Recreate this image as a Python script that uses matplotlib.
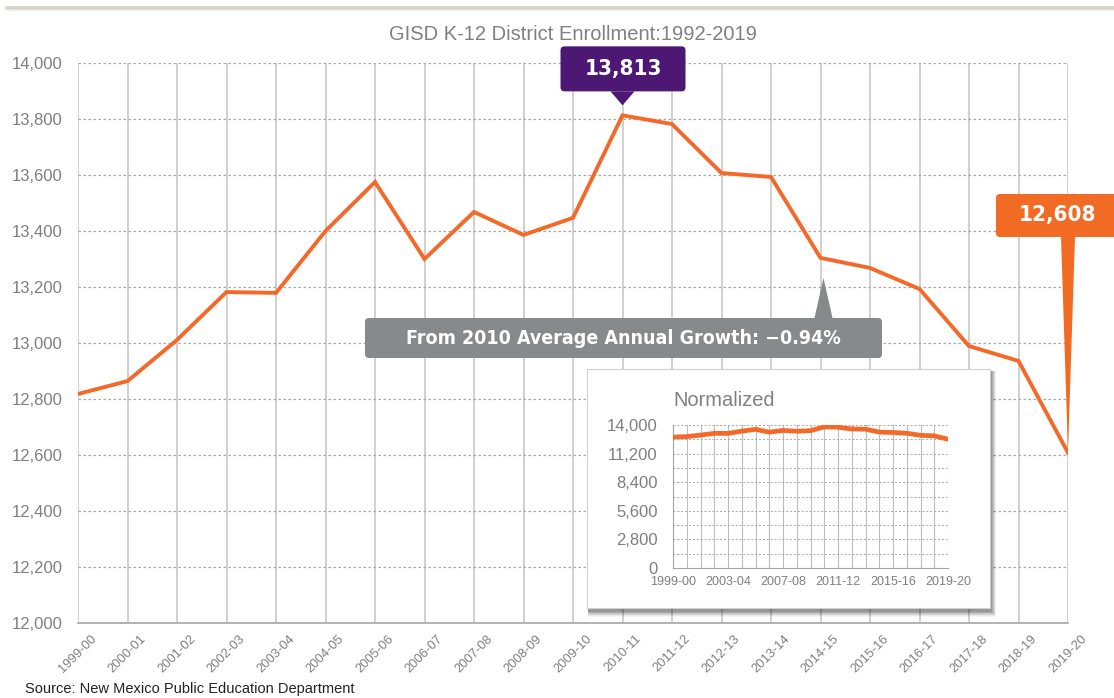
import matplotlib
matplotlib.use("Agg")
import matplotlib.pyplot as plt
from matplotlib import font_manager
from matplotlib.font_manager import FontProperties
from matplotlib.patches import FancyBboxPatch, Polygon, Rectangle
from matplotlib.ticker import FuncFormatter, MultipleLocator

# ---------------- data ----------------
years = ["1999-00", "2000-01", "2001-02", "2002-03", "2003-04", "2004-05", "2005-06",
         "2006-07", "2007-08", "2008-09", "2009-10", "2010-11", "2011-12", "2012-13",
         "2013-14", "2014-15", "2015-16", "2016-17", "2017-18", "2018-19", "2019-20"]
enrollment = [12818, 12864, 13011, 13182, 13179, 13400, 13575,
              13300, 13468, 13386, 13447, 13813, 13782, 13607,
              13593, 13304, 13268, 13193, 12989, 12936, 12608]
main_yticks = [12000, 12200, 12400, 12600, 12800, 13000, 13200, 13400, 13600, 13800, 14000]
inset_yticks = [0, 2800, 5600, 8400, 11200, 14000]
inset_xlabels = ["1999-00", "2003-04", "2007-08", "2011-12", "2015-16", "2019-20"]
title = "GISD K-12 District Enrollment:1992-2019"
peak_label = "13,813"
last_label = "12,608"
growth_label = "From 2010 Average Annual Growth: \u22120.94%"
source = "Source: New Mexico Public Education Department"

W, H = 1114, 698
LINE = "#F4692A"
GRAY_TXT = "#7F7F7F"
BASE = "Liberation Sans"

# find a condensed bold font if one is installed
def find_condensed():
    best = None
    for f in font_manager.fontManager.ttflist:
        nm = f.name.lower()
        cond = ("condensed" in nm or "narrow" in nm or
                str(f.stretch).lower() in ("condensed", "semi-condensed", "extra-condensed"))
        bold = (isinstance(f.weight, int) and f.weight >= 600) or str(f.weight).lower() in ("bold", "semibold", "demibold", "heavy", "black")
        if cond and bold and "oblique" not in f.fname.lower() and "italic" not in f.fname.lower():
            return FontProperties(fname=f.fname)
        if cond and best is None and "oblique" not in f.fname.lower() and "italic" not in f.fname.lower():
            best = FontProperties(fname=f.fname, weight="bold")
    return best

COND = find_condensed()
HAVE_COND = COND is not None
if COND is None:
    COND = FontProperties(family="Roboto", weight="bold")

fig = plt.figure(figsize=(W / 100, H / 100), dpi=100)
fig.patch.set_facecolor("white")

# ---------------- main axes ----------------
ax = fig.add_axes([78 / W, (H - 623) / H, 990 / W, 560 / H], zorder=1)
x = list(range(len(years)))
ax.plot(x, enrollment, color=LINE, lw=2.8, solid_joinstyle="miter", zorder=3)
ax.set_xlim(0, len(years) - 1)
ax.set_ylim(12000, 14000)
ax.set_yticks(main_yticks)
ax.yaxis.set_major_formatter(FuncFormatter(lambda v, p: f"{int(v):,}"))
ax.set_xticks(x)
ax.set_xticklabels(years, rotation=45, ha="center", va="top")
for lab in ax.get_xticklabels():
    lab.set_fontfamily(BASE)
    lab.set_fontsize(9.3)
    lab.set_color(GRAY_TXT)
for lab in ax.get_yticklabels():
    lab.set_fontfamily(BASE)
    lab.set_fontsize(12)
    lab.set_color(GRAY_TXT)
ax.tick_params(axis="both", length=0)
ax.tick_params(axis="y", pad=11)
ax.tick_params(axis="x", pad=7)
for s in ["top", "right", "left"]:
    ax.spines[s].set_visible(False)
ax.spines["bottom"].set_color("#A6A6A6")
ax.spines["bottom"].set_linewidth(1.2)
ax.xaxis.grid(True, color="#C4C4C4", lw=1.1, ls="-")
ax.yaxis.grid(True, color="#A8A8A8", lw=0.9, ls=(0, (2, 2)))
ax.set_axisbelow(True)

# ---------------- overlay (pixel coordinates, y down) ----------------
ov = fig.add_axes([0, 0, 1, 1], zorder=2)
ov.set_xlim(0, W)
ov.set_ylim(H, 0)
ov.axis("off")

def px(xi, yv):
    dx, dy = ax.transData.transform((xi, yv))
    return dx, H - dy

# decorative top rule
ov.plot([5, W], [8, 8], color="#D6D2C4", lw=2.6, solid_capstyle="butt")
ov.plot([5, W], [10, 10], color="#EEECE6", lw=1.2, solid_capstyle="butt")

# title
ov.text(573, 35, title, ha="center", va="center", fontsize=14.5, color="#808080", family=BASE)

def callout(box, tip, base_half, color, text, fs, text_dy=0):
    x0, y0, x1, y1 = box
    ov.add_patch(FancyBboxPatch((x0, y0), x1 - x0, y1 - y0,
                                boxstyle="round,pad=0,rounding_size=4",
                                fc=color, ec="none", zorder=5))
    tx, ty = tip
    by = y1 if ty > y1 else y0
    ov.add_patch(Polygon([(tx - base_half, by), (tx + base_half, by), (tx, ty)],
                         closed=True, fc=color, ec="none", zorder=5))
    fp = COND.copy()
    fp.set_size(fs)
    ov.text((x0 + x1) / 2, (y0 + y1) / 2 + text_dy, text, ha="center", va="center",
            color="white", fontproperties=fp, zorder=6)

scale = 1.0 if HAVE_COND else 0.85

# peak callout (2010-11)
ipk = enrollment.index(max(enrollment))
pkx, pky = px(ipk, enrollment[ipk])
callout((pkx - 62, pky - 69, pkx + 63, pky - 24), (pkx, pky - 10), 12, "#4D1873", peak_label, 16 * scale)

# last value callout
ilast = len(enrollment) - 1
lx, ly = px(ilast, enrollment[ilast])
callout((lx - 72, 194, W + 5, 237), (lx, ly), 7, "#F26B25", last_label, 16 * scale, text_dy=-1)

# growth callout pointing at 2014-15
ig = years.index("2014-15")
gx, gy = px(ig, enrollment[ig])
callout((365, 318, 882, 358), (gx + 3, gy + 20), 9, "#878A8B", growth_label, 14 * scale)

# inset background with soft shadow
bx0, by0, bx1, by1 = 587, 369, 990, 608
for i, a in enumerate([0.04, 0.05, 0.07, 0.09, 0.11, 0.13]):
    off = 7 - i
    ov.add_patch(Rectangle((bx0 + 1, by0 + 2), bx1 - bx0 + off * 0.7, by1 - by0 + off,
                           fc="black", ec="none", alpha=a, zorder=3))
ov.add_patch(Rectangle((bx0, by0), bx1 - bx0, by1 - by0, fc="white", ec="#D0D0D0", lw=0.8, zorder=4))
ov.text(673, 401, "Normalized", ha="left", va="center", fontsize=14.4, color="#808080",
        family=BASE, zorder=6)

# source
ov.text(25, 689, source, ha="left", va="center", fontsize=10.5, color="#222222", family=BASE)

# ---------------- inset axes ----------------
ins = fig.add_axes([673 / W, (H - 568) / H, 275 / W, 143 / H], zorder=3)
ins.patch.set_alpha(0)
ins.plot(x, enrollment, color=LINE, lw=3.4, zorder=3)
ins.set_xlim(0, len(years) - 1)
ins.set_ylim(0, 14000)
ins.set_yticks(inset_yticks)
ins.yaxis.set_minor_locator(MultipleLocator(1400))
ins.yaxis.set_major_formatter(FuncFormatter(lambda v, p: f"{int(v):,}"))
ins.set_xticks(x, minor=True)
ins.set_xticks([years.index(l) for l in inset_xlabels])
ins.set_xticklabels(inset_xlabels)
ins.tick_params(axis="both", which="both", length=0)
ins.tick_params(axis="y", pad=11)
ins.tick_params(axis="x", pad=6)
for lab in ins.get_yticklabels():
    lab.set_fontfamily(BASE)
    lab.set_fontsize(12)
    lab.set_color(GRAY_TXT)
for lab in ins.get_xticklabels():
    lab.set_fontfamily(BASE)
    lab.set_fontsize(9)
    lab.set_color(GRAY_TXT)
for s in ["top", "right"]:
    ins.spines[s].set_visible(False)
ins.spines["left"].set_color("#A6A6A6")
ins.spines["bottom"].set_color("#A6A6A6")
ins.xaxis.grid(True, which="both", color="#BDBDBD", lw=0.8, ls="-")
ins.yaxis.grid(True, which="both", color="#A8A8A8", lw=0.7, ls=(0, (2, 2)))
ins.set_axisbelow(True)

fig.savefig("out.png", dpi=100, facecolor="white")
